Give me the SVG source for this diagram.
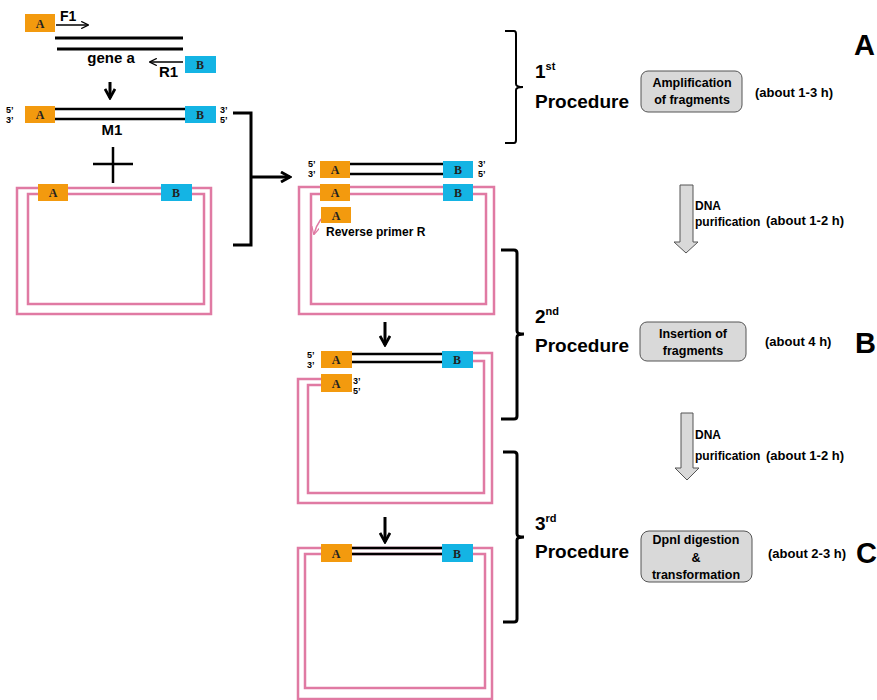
<svg xmlns="http://www.w3.org/2000/svg" width="877" height="700" viewBox="0 0 877 700">
<style>
.a{fill:#f39a0e}
.b{fill:#14b4e4}
.box{font-family:"Liberation Serif",serif;font-weight:bold;font-size:12px;fill:#222;text-anchor:middle}
.pk{fill:none;stroke:#e07aa3;stroke-width:2.5}
.bk{fill:none;stroke:#000;stroke-width:3}
.t{font-family:"Liberation Sans",Arial,sans-serif;font-weight:bold;fill:#000}
.end{font-family:"Liberation Sans",Arial,sans-serif;font-weight:bold;font-size:9px;fill:#000}
.gb{fill:#d9d9d9;stroke:#555;stroke-width:1}
.ga{fill:#d9d9d9;stroke:#555;stroke-width:1}
</style>
<defs>
<marker id="ah" viewBox="0 0 10 10" refX="8.5" refY="5" markerWidth="8" markerHeight="8" orient="auto" markerUnits="userSpaceOnUse"><path d="M0,0.5 L9,5 L0,9.5" fill="none" stroke="#000" stroke-width="1.6"/></marker>
<marker id="bh" viewBox="0 0 12 12" refX="10" refY="6" markerWidth="12" markerHeight="12" orient="auto" markerUnits="userSpaceOnUse"><path d="M1,1 L10,6 L1,11" fill="none" stroke="#000" stroke-width="2.8"/></marker>
<marker id="pah" viewBox="0 0 10 10" refX="9" refY="5" markerWidth="8" markerHeight="8" orient="auto" markerUnits="userSpaceOnUse"><path d="M0,0 L10,5 L0,10" fill="none" stroke="#e07aa3" stroke-width="1.5"/></marker>
</defs>

<g id="gene-a">
<rect class="a" x="25" y="14" width="30" height="18"/><text class="box" x="40" y="28">A</text>
<text class="t" x="60" y="21" font-size="14">F1</text>
<line x1="56" y1="25" x2="88" y2="25" stroke="#000" stroke-width="1.5" marker-end="url(#ah)"/>
<line x1="55" y1="38" x2="183" y2="38" stroke="#000" stroke-width="3"/>
<line x1="57" y1="49" x2="183" y2="49" stroke="#000" stroke-width="3"/>
<text class="t" x="111" y="63" font-size="15" text-anchor="middle">gene a</text>
<rect class="b" x="185" y="56" width="31" height="17"/><text class="box" x="200" y="69">B</text>
<line x1="183" y1="62" x2="150" y2="62" stroke="#000" stroke-width="1.5" marker-end="url(#ah)"/>
<text class="t" x="159" y="77" font-size="15">R1</text>
</g>

<g id="m1">
<text class="end" x="6" y="113">5’</text><text class="end" x="6" y="123">3’</text>
<rect class="a" x="25" y="106" width="30" height="17"/><text class="box" x="40" y="119">A</text>
<line x1="55" y1="109" x2="185" y2="109" stroke="#000" stroke-width="2.5"/>
<line x1="55" y1="119" x2="185" y2="119" stroke="#000" stroke-width="2.5"/>
<rect class="b" x="185" y="106" width="31" height="17"/><text class="box" x="200" y="119">B</text>
<text class="end" x="220" y="113">3’</text><text class="end" x="220" y="123">5’</text>
<text class="t" x="112" y="135" font-size="15" text-anchor="middle">M1</text>
</g>

<g id="plus">
<line x1="93" y1="164" x2="133" y2="164" stroke="#000" stroke-width="2.5"/>
<line x1="113" y1="147" x2="113" y2="183" stroke="#000" stroke-width="2.5"/>
</g>

<g id="plasmid1">
<rect class="pk" x="17" y="188" width="194" height="126"/>
<rect class="pk" x="28" y="194" width="176" height="110"/>
<rect class="a" x="38" y="184" width="30" height="17"/><text class="box" x="53" y="197">A</text>
<rect class="b" x="161" y="184" width="31" height="17"/><text class="box" x="176" y="197">B</text>
</g>

<g id="plasmid2">
<text class="end" x="308" y="167">5’</text><text class="end" x="308" y="177">3’</text>
<rect class="a" x="320" y="161" width="30" height="17"/><text class="box" x="335" y="174">A</text>
<line x1="350" y1="164" x2="443" y2="164" stroke="#000" stroke-width="2.5"/>
<line x1="350" y1="174" x2="443" y2="174" stroke="#000" stroke-width="2.5"/>
<rect class="b" x="443" y="161" width="30" height="17"/><text class="box" x="458" y="174">B</text>
<text class="end" x="478" y="167">3’</text><text class="end" x="478" y="177">5’</text>
<rect class="pk" x="299" y="187" width="195" height="127"/>
<rect class="pk" x="311" y="194" width="175" height="110"/>
<rect class="a" x="320" y="184" width="30" height="17"/><text class="box" x="335" y="197">A</text>
<rect class="b" x="443" y="184" width="30" height="17"/><text class="box" x="458" y="197">B</text>
<rect class="a" x="321" y="207" width="30" height="16"/><text class="box" x="336" y="220">A</text>
<path d="M321,219 Q316,226 314,234" fill="none" stroke="#e07aa3" stroke-width="1.5" marker-end="url(#pah)"/>
<text class="t" x="326" y="236" font-size="12">Reverse primer R</text>
</g>

<g id="plasmid3">
<path class="pk" d="M473,353 H492 V503 H298 V379 H321"/>
<path class="pk" d="M473,361 H484 V493 H308 V385 H321"/>
<text class="end" x="307" y="358">5’</text><text class="end" x="307" y="368">3’</text>
<rect class="a" x="321" y="351" width="31" height="17"/><text class="box" x="336" y="364">A</text>
<line x1="352" y1="354" x2="442" y2="354" stroke="#000" stroke-width="2.5"/>
<line x1="352" y1="362" x2="442" y2="362" stroke="#000" stroke-width="2.5"/>
<rect class="b" x="442" y="351" width="31" height="17"/><text class="box" x="457" y="364">B</text>
<rect class="a" x="321" y="374" width="31" height="18"/><text class="box" x="336" y="388">A</text>
<text class="end" x="353" y="384">3’</text><text class="end" x="353" y="394">5’</text>
</g>

<g id="plasmid4">
<rect class="pk" x="298" y="548" width="194" height="151"/>
<rect class="pk" x="305" y="554" width="180" height="134"/>
<line x1="352" y1="548" x2="442" y2="548" stroke="#000" stroke-width="2.5"/>
<line x1="352" y1="554" x2="442" y2="554" stroke="#000" stroke-width="2.5"/>
<rect class="a" x="321" y="544" width="31" height="18"/><text class="box" x="336" y="558">A</text>
<rect class="b" x="442" y="544" width="31" height="18"/><text class="box" x="457" y="558">B</text>
</g>

<g id="proc1">
<text class="t" x="535" y="78" font-size="19">1<tspan font-size="11" dy="-8">st</tspan></text>
<text class="t" x="535" y="108" font-size="19">Procedure</text>
<rect class="gb" x="641" y="71" width="101" height="41" rx="7"/>
<text class="t" x="692" y="87" font-size="12.5" text-anchor="middle">Amplification</text>
<text class="t" x="692" y="104" font-size="12.5" text-anchor="middle">of fragments</text>
<text class="t" x="755" y="97" font-size="13">(about 1-3 h)</text>
<text class="t" x="854" y="55" font-size="29">A</text>
</g>

<g id="purif1">
<path class="ga" d="M680,185 H693 V242 H698 L686,253 L674,242 H680 Z"/>
<text class="t" x="695" y="210" font-size="12">DNA</text>
<text class="t" x="695" y="226" font-size="12">purification</text>
<text class="t" x="766" y="225" font-size="13">(about 1-2 h)</text>
</g>

<g id="proc2">
<text class="t" x="535" y="323" font-size="19">2<tspan font-size="11" dy="-8">nd</tspan></text>
<text class="t" x="535" y="352" font-size="19">Procedure</text>
<rect class="gb" x="640" y="322" width="106" height="39" rx="7"/>
<text class="t" x="693" y="338" font-size="12.5" text-anchor="middle">Insertion of</text>
<text class="t" x="693" y="355" font-size="12.5" text-anchor="middle">fragments</text>
<text class="t" x="765" y="346" font-size="13">(about 4 h)</text>
<text class="t" x="855" y="353" font-size="29">B</text>
</g>

<g id="purif2">
<path class="ga" d="M681,413 H693 V468 H699 L687,480 L675,468 H681 Z"/>
<text class="t" x="695" y="439" font-size="12">DNA</text>
<text class="t" x="695" y="460" font-size="12">purification</text>
<text class="t" x="766" y="460" font-size="13">(about 1-2 h)</text>
</g>

<g id="proc3">
<text class="t" x="535" y="530" font-size="19">3<tspan font-size="11" dy="-8">rd</tspan></text>
<text class="t" x="535" y="558" font-size="19">Procedure</text>
<rect class="gb" x="641" y="531" width="111" height="51" rx="8"/>
<text class="t" x="696" y="544" font-size="12.5" text-anchor="middle">DpnI digestion</text>
<text class="t" x="696" y="562" font-size="12.5" text-anchor="middle">&amp;</text>
<text class="t" x="696" y="579" font-size="12.5" text-anchor="middle">transformation</text>
<text class="t" x="768" y="558" font-size="13">(about 2-3 h)</text>
<text class="t" x="856" y="563" font-size="29">C</text>
</g>

<g id="connectors">
<line x1="110" y1="82" x2="110" y2="98" stroke="#000" stroke-width="3" marker-end="url(#bh)"/>
<path class="bk" d="M233,113 H251 V245 H233"/>
<line x1="251" y1="177" x2="290" y2="177" stroke="#000" stroke-width="3" marker-end="url(#bh)"/>
<line x1="385" y1="322" x2="385" y2="345" stroke="#000" stroke-width="3" marker-end="url(#bh)"/>
<line x1="385" y1="517" x2="385" y2="542" stroke="#000" stroke-width="3" marker-end="url(#bh)"/>
<path d="M505,31 H514 Q516,31 516,34 V84 Q516,87 523,87 Q516,87 516,90 V140 Q516,143 514,143 H505" fill="none" stroke="#000" stroke-width="2"/>
<path class="bk" d="M501,250 H514 Q517,250 517,253 V331 Q517,334 524,334 Q517,334 517,337 V416 Q517,419 514,419 H501" stroke-width="2.5"/>
<path class="bk" d="M503,452 H514 Q517,452 517,455 V534 Q517,537 524,537 Q517,537 517,540 V619 Q517,622 514,622 H503" stroke-width="2.5"/>
</g>
</svg>
